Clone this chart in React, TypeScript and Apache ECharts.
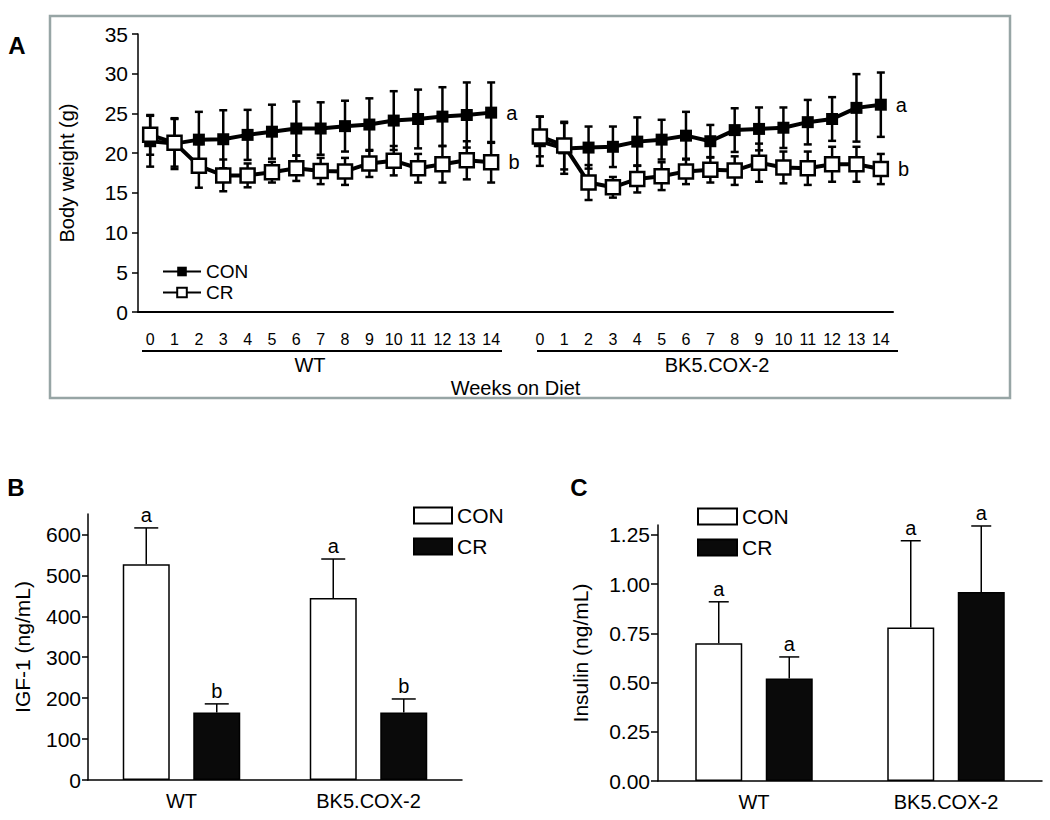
import React, { useEffect, useRef } from 'react';
import * as echarts from 'echarts';

// ---------- Panel A data: body weight (g) ----------
const weeks = ['0', '1', '2', '3', '4', '5', '6', '7', '8', '9', '10', '11', '12', '13', '14'];
const groups = ['WT', 'BK5.COX-2'];
const wtCon = [21.5, 21.2, 21.7, 21.75, 22.3, 22.7, 23.1, 23.1, 23.4, 23.6, 24.1, 24.3, 24.6, 24.8, 25.1];
const wtConErr = [3.2, 3.2, 3.5, 3.65, 3.15, 3.4, 3.4, 3.3, 3.2, 3.3, 3.7, 3.7, 3.7, 4.1, 3.8];
const wtCr = [22.3, 21.3, 18.4, 17.2, 17.2, 17.6, 18.1, 17.75, 17.7, 18.7, 19.05, 18.1, 18.6, 19.1, 18.85];
const wtCrErr = [2.5, 3.0, 2.75, 2.0, 1.5, 1.3, 1.6, 1.65, 1.7, 1.7, 1.85, 1.8, 2.3, 2.4, 2.55];
const bkCon = [21.5, 20.6, 20.7, 20.8, 21.45, 21.7, 22.2, 21.5, 22.9, 23.05, 23.2, 23.9, 24.3, 25.7, 26.1];
const bkConErr = [3.1, 3.2, 2.65, 2.55, 3.05, 2.5, 3.0, 2.05, 2.75, 2.7, 2.55, 2.8, 2.75, 4.25, 4.05];
const bkCr = [22.1, 20.95, 16.3, 15.7, 16.75, 17.1, 17.7, 17.9, 17.8, 18.8, 18.2, 18.1, 18.6, 18.6, 18.0];
const bkCrErr = [2.5, 3.0, 2.2, 1.3, 1.7, 1.75, 1.6, 1.6, 1.8, 2.4, 2.0, 2.1, 2.2, 2.2, 1.9];
const conLetterA = 'a';
const crLetterA = 'b';
const bwTicks = { min: 0, max: 35, interval: 5 };

// ---------- Panel B data: IGF-1 (ng/mL) ----------
const igfCon = [527, 445];
const igfConErr = [89, 95];
const igfCr = [165, 165];
const igfCrErr = [21, 33];
const igfConLetters = ['a', 'a'];
const igfCrLetters = ['b', 'b'];
const igfTicks = [0, 100, 200, 300, 400, 500, 600];
const igfMax = 650;

// ---------- Panel C data: Insulin (ng/mL) ----------
const insCon = [0.70, 0.78];
const insConErr = [0.21, 0.44];
const insCr = [0.52, 0.96];
const insCrErr = [0.11, 0.335];
const insConLetters = ['a', 'a'];
const insCrLetters = ['a', 'a'];
const insTicks = [0, 0.25, 0.5, 0.75, 1.0, 1.25];
const insMax = 1.3;

const FONT = 'Liberation Sans, Arial, Helvetica, sans-serif';

export default function App() {
  const ref = useRef<HTMLDivElement>(null);

  useEffect(() => {
    if (!ref.current) return;
    const chart = echarts.init(ref.current, undefined, { renderer: 'svg' });

    const xCats = [...weeks, '', ...weeks];
    const gapIdx = weeks.length;
    const lastWT = weeks.length - 1;
    const lastBK = xCats.length - 1;

    const lineData = (wt: number[], bk: number[], letter: string) => {
      const vals: (number | null)[] = [...wt, null, ...bk];
      return vals.map((v, i) => {
        if (i === lastWT || i === lastBK) {
          return {
            value: v,
            label: {
              show: true,
              position: 'right',
              distance: 9,
              formatter: letter,
              fontSize: 20,
              color: '#000',
              fontFamily: FONT,
            },
          };
        }
        return v;
      });
    };

    const errData: number[][] = [];
    const pushErr = (m: number[], e: number[], offset: number) => {
      m.forEach((v, i) => errData.push([i + offset, v, e[i]]));
    };
    pushErr(wtCon, wtConErr, 0);
    pushErr(wtCr, wtCrErr, 0);
    pushErr(bkCon, bkConErr, gapIdx + 1);
    pushErr(bkCr, bkCrErr, gapIdx + 1);

    const lineErrRender = (params: any, api: any) => {
      const x = api.value(0);
      const m = api.value(1);
      const e = api.value(2);
      const top = api.coord([x, m + e]);
      const bot = api.coord([x, m - e]);
      const hw = 4;
      const st = { stroke: '#000', lineWidth: 2.5 };
      return {
        type: 'group',
        children: [
          { type: 'line', shape: { x1: top[0], y1: top[1], x2: bot[0], y2: bot[1] }, style: st },
          { type: 'line', shape: { x1: top[0] - hw, y1: top[1], x2: top[0] + hw, y2: top[1] }, style: st },
          { type: 'line', shape: { x1: bot[0] - hw, y1: bot[1], x2: bot[0] + hw, y2: bot[1] }, style: st },
        ],
      };
    };

    const BAR_W = 47;
    const BAR_GAP = 0.5;
    const barErrRender = (letters: string[], side: number, capHalf: number) => (params: any, api: any) => {
      const x = api.value(0);
      const m = api.value(1);
      const e = api.value(2);
      const base = api.coord([x, m]);
      const top = api.coord([x, m + e]);
      const off = side * (BAR_W * (1 + BAR_GAP)) / 2;
      const cx = base[0] + off;
      const st = { stroke: '#000', lineWidth: 1.5 };
      return {
        type: 'group',
        children: [
          { type: 'line', shape: { x1: cx, y1: base[1], x2: cx, y2: top[1] }, style: st },
          { type: 'line', shape: { x1: cx - capHalf, y1: top[1], x2: cx + capHalf, y2: top[1] }, style: st },
          {
            type: 'text',
            style: {
              x: cx,
              y: top[1] - 3,
              text: letters[params.dataIndex],
              align: 'center',
              verticalAlign: 'bottom',
              fontSize: 20,
              fontFamily: FONT,
              fill: '#000',
            },
          },
        ],
      };
    };

    const catAxisBase = {
      type: 'category',
      axisLine: { lineStyle: { color: '#000', width: 1.5 } },
      axisTick: { alignWithLabel: true, length: 7, lineStyle: { color: '#000', width: 1.5 } },
      axisLabel: { fontSize: 20, color: '#000', margin: 11, fontFamily: FONT },
    };

    const option: any = {
      animation: false,
      backgroundColor: '#fff',
      textStyle: { fontFamily: FONT, color: '#000' },
      grid: [
        { left: 138, top: 34, width: 755, height: 278 },
        { left: 88, top: 514, width: 374, height: 266 },
        { left: 658, top: 525, width: 384, height: 256 },
      ],
      legend: [
        {
          data: ['CON', 'CR'],
          orient: 'vertical',
          left: 157,
          top: 257,
          itemWidth: 38,
          itemHeight: 12,
          itemGap: 2,
          textStyle: { fontSize: 19, color: '#000', fontFamily: FONT },
        },
        {
          data: ['CON_B', 'CR_B'],
          orient: 'vertical',
          left: 408,
          top: 500,
          icon: 'rect',
          itemWidth: 38,
          itemHeight: 16,
          itemGap: 10,
          formatter: (n: string) => n.split('_')[0],
          textStyle: { fontSize: 21, color: '#000', fontFamily: FONT },
        },
        {
          data: ['CON_C', 'CR_C'],
          orient: 'vertical',
          left: 692,
          top: 501,
          icon: 'rect',
          itemWidth: 39,
          itemHeight: 16,
          itemGap: 10,
          formatter: (n: string) => n.split('_')[0],
          textStyle: { fontSize: 21, color: '#000', fontFamily: FONT },
        },
      ],
      xAxis: [
        {
          gridIndex: 0,
          type: 'category',
          data: xCats,
          boundaryGap: true,
          name: 'Weeks on Diet',
          nameLocation: 'middle',
          nameGap: 66,
          nameTextStyle: { fontSize: 20, color: '#000', fontFamily: FONT },
          axisLine: { lineStyle: { color: '#000', width: 2 } },
          axisTick: { interval: 0, length: 5, lineStyle: { color: '#000', width: 2 } },
          axisLabel: { interval: 0, fontSize: 16, color: '#000', margin: 19, fontFamily: FONT },
        },
        { ...catAxisBase, gridIndex: 1, data: groups },
        { ...catAxisBase, gridIndex: 2, data: groups },
      ],
      yAxis: [
        {
          gridIndex: 0,
          type: 'value',
          min: bwTicks.min,
          max: bwTicks.max,
          interval: bwTicks.interval,
          name: 'Body weight (g)',
          nameLocation: 'middle',
          nameGap: 61,
          nameTextStyle: { fontSize: 20, color: '#000', fontFamily: FONT },
          splitLine: { show: false },
          axisLine: { show: true, lineStyle: { color: '#000', width: 1.5 } },
          axisTick: { show: true, length: 6, lineStyle: { color: '#000', width: 1.5 } },
          axisLabel: { fontSize: 21, color: '#000', margin: 10, fontFamily: FONT },
        },
        {
          gridIndex: 1,
          type: 'value',
          min: 0,
          max: igfMax,
          name: 'IGF-1 (ng/mL)',
          nameLocation: 'middle',
          nameGap: 55,
          nameTextStyle: { fontSize: 21, color: '#000', fontFamily: FONT },
          splitLine: { show: false },
          axisLine: { show: true, lineStyle: { color: '#000', width: 1.5 } },
          axisTick: { show: true, length: 6, customValues: igfTicks, lineStyle: { color: '#000', width: 1.5 } },
          axisLabel: { fontSize: 21, color: '#000', margin: 7, customValues: igfTicks, fontFamily: FONT },
        },
        {
          gridIndex: 2,
          type: 'value',
          min: 0,
          max: insMax,
          name: 'Insulin (ng/mL)',
          nameLocation: 'middle',
          nameGap: 67,
          nameTextStyle: { fontSize: 21, color: '#000', fontFamily: FONT },
          splitLine: { show: false },
          axisLine: { show: true, lineStyle: { color: '#000', width: 1.5 } },
          axisTick: { show: true, length: 7, customValues: insTicks, lineStyle: { color: '#000', width: 1.5 } },
          axisLabel: {
            fontSize: 21,
            color: '#000',
            margin: 8,
            customValues: insTicks,
            fontFamily: FONT,
            formatter: (v: number) => v.toFixed(2),
          },
        },
      ],
      series: [
        {
          type: 'custom',
          name: 'errA',
          xAxisIndex: 0,
          yAxisIndex: 0,
          z: 2,
          renderItem: lineErrRender,
          encode: { x: 0, y: 1 },
          data: errData,
          silent: true,
        },
        {
          type: 'line',
          name: 'CON',
          xAxisIndex: 0,
          yAxisIndex: 0,
          z: 3,
          data: lineData(wtCon, bkCon, conLetterA),
          connectNulls: false,
          showAllSymbol: true,
          symbol: 'rect',
          symbolSize: 12,
          lineStyle: { color: '#000', width: 4 },
          itemStyle: { color: '#000' },
        },
        {
          type: 'line',
          name: 'CR',
          xAxisIndex: 0,
          yAxisIndex: 0,
          z: 4,
          data: lineData(wtCr, bkCr, crLetterA),
          connectNulls: false,
          showAllSymbol: true,
          symbol: 'rect',
          symbolSize: 14,
          lineStyle: { color: '#000', width: 4 },
          itemStyle: { color: '#fff', borderColor: '#000', borderWidth: 2.5 },
        },
        {
          type: 'bar',
          name: 'CON_B',
          xAxisIndex: 1,
          yAxisIndex: 1,
          data: igfCon,
          barWidth: BAR_W,
          barGap: `${BAR_GAP * 100}%`,
          itemStyle: { color: '#fff', borderColor: '#000', borderWidth: 1.5 },
        },
        {
          type: 'bar',
          name: 'CR_B',
          xAxisIndex: 1,
          yAxisIndex: 1,
          data: igfCr,
          barWidth: BAR_W,
          barGap: `${BAR_GAP * 100}%`,
          itemStyle: { color: '#0a0a0a', borderColor: '#000', borderWidth: 1.5 },
        },
        {
          type: 'custom',
          name: 'errB1',
          xAxisIndex: 1,
          yAxisIndex: 1,
          renderItem: barErrRender(igfConLetters, -1, 12),
          encode: { x: 0, y: 1 },
          data: igfCon.map((v, i) => [i, v, igfConErr[i]]),
          silent: true,
        },
        {
          type: 'custom',
          name: 'errB2',
          xAxisIndex: 1,
          yAxisIndex: 1,
          renderItem: barErrRender(igfCrLetters, 1, 12),
          encode: { x: 0, y: 1 },
          data: igfCr.map((v, i) => [i, v, igfCrErr[i]]),
          silent: true,
        },
        {
          type: 'bar',
          name: 'CON_C',
          xAxisIndex: 2,
          yAxisIndex: 2,
          data: insCon,
          barWidth: BAR_W,
          barGap: `${BAR_GAP * 100}%`,
          itemStyle: { color: '#fff', borderColor: '#000', borderWidth: 1.5 },
        },
        {
          type: 'bar',
          name: 'CR_C',
          xAxisIndex: 2,
          yAxisIndex: 2,
          data: insCr,
          barWidth: BAR_W,
          barGap: `${BAR_GAP * 100}%`,
          itemStyle: { color: '#0a0a0a', borderColor: '#000', borderWidth: 1.5 },
        },
        {
          type: 'custom',
          name: 'errC1',
          xAxisIndex: 2,
          yAxisIndex: 2,
          renderItem: barErrRender(insConLetters, -1, 10),
          encode: { x: 0, y: 1 },
          data: insCon.map((v, i) => [i, v, insConErr[i]]),
          silent: true,
        },
        {
          type: 'custom',
          name: 'errC2',
          xAxisIndex: 2,
          yAxisIndex: 2,
          renderItem: barErrRender(insCrLetters, 1, 10),
          encode: { x: 0, y: 1 },
          data: insCr.map((v, i) => [i, v, insCrErr[i]]),
          silent: true,
        },
      ],
      graphic: [
        {
          type: 'rect',
          shape: { x: 50, y: 16, width: 960, height: 382 },
          style: { fill: 'none', stroke: '#97a5a5', lineWidth: 2.5 },
          silent: true,
        },
        { type: 'line', shape: { x1: 142, y1: 351, x2: 502, y2: 351 }, style: { stroke: '#000', lineWidth: 2 } },
        { type: 'line', shape: { x1: 537, y1: 351, x2: 898, y2: 351 }, style: { stroke: '#000', lineWidth: 2 } },
        {
          type: 'text',
          x: 310,
          y: 365,
          style: { text: groups[0], align: 'center', verticalAlign: 'middle', fontSize: 20, fontFamily: FONT, fill: '#000' },
        },
        {
          type: 'text',
          x: 717,
          y: 365,
          style: { text: groups[1], align: 'center', verticalAlign: 'middle', fontSize: 20, fontFamily: FONT, fill: '#000' },
        },
        {
          type: 'text',
          x: 17,
          y: 45,
          style: { text: 'A', align: 'center', verticalAlign: 'middle', fontSize: 24, fontWeight: 'bold', fontFamily: FONT, fill: '#000' },
        },
        {
          type: 'text',
          x: 16,
          y: 487,
          style: { text: 'B', align: 'center', verticalAlign: 'middle', fontSize: 24, fontWeight: 'bold', fontFamily: FONT, fill: '#000' },
        },
        {
          type: 'text',
          x: 579,
          y: 487,
          style: { text: 'C', align: 'center', verticalAlign: 'middle', fontSize: 24, fontWeight: 'bold', fontFamily: FONT, fill: '#000' },
        },
      ],
    };

    chart.setOption(option);
    return () => chart.dispose();
  }, []);

  return (
    <div
      ref={ref}
      style={{ position: 'absolute', left: 0, top: 0, width: 1050, height: 820, background: '#fff' }}
    />
  );
}
